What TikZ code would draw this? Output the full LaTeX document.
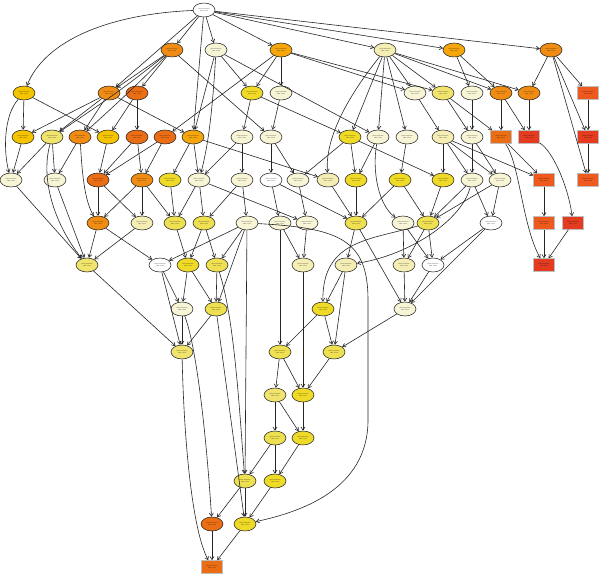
\documentclass[tikz,border=0pt]{standalone}
\usetikzlibrary{shapes.geometric,arrows.meta}
\definecolor{cW}{HTML}{FFFFFF}
\definecolor{cP}{HTML}{F8F5D6}
\definecolor{cPY}{HTML}{F5EEB4}
\definecolor{cLY}{HTML}{F0E46E}
\definecolor{cY}{HTML}{F0DA28}
\definecolor{cYb}{HTML}{EFE052}
\definecolor{cG}{HTML}{F5C400}
\definecolor{cOG}{HTML}{F5A60C}
\definecolor{cO}{HTML}{F08C14}
\definecolor{cDO}{HTML}{EC6E14}
\definecolor{cRO}{HTML}{EE5A1E}
\definecolor{cR}{HTML}{E43C20}
\newcommand\gl{GO:0000000\\GO term}
\tikzset{
  goel/.style={ellipse, draw=black!85, line width=0.55pt, minimum width=22pt, minimum height=14pt, inner sep=0pt, align=center, font=\fontsize{1.5}{1.8}\selectfont},
  gobx/.style={rectangle, draw=black!25, line width=0.5pt, minimum width=21pt, minimum height=13pt, inner sep=0pt, align=center, font=\fontsize{1.5}{1.8}\selectfont},
  conn/.style={draw=black!85, line width=0.6pt, -{Straight Barb[length=3.2pt,width=4pt]}}
}
\begin{document}
\begin{tikzpicture}[x=1pt,y=-1pt]
\useasboundingbox (0,0) rectangle (600,575);
% row 0
\node[goel,fill=cW] (R) at (204,10) {\gl};
% row A
\node[goel,fill=cO]  (A1) at (172,50) {\gl};
\node[goel,fill=cP]  (A2) at (216,50) {\gl};
\node[goel,fill=cOG] (A3) at (281,50) {\gl};
\node[goel,fill=cPY] (A4) at (385,50) {\gl};
\node[goel,fill=cOG] (A5) at (454,50) {\gl};
\node[goel,fill=cO]  (A6) at (551,50) {\gl};
% row B
\node[goel,fill=cG]  (B1) at (24,93) {\gl};
\node[goel,fill=cO]  (B2) at (109,93) {\gl};
\node[goel,fill=cDO] (B3) at (137,93) {\gl};
\node[goel,fill=cY]  (B4) at (252,93) {\gl};
\node[goel,fill=cP]  (B5) at (281,93) {\gl};
\node[goel,fill=cP]  (B6) at (415,93) {\gl};
\node[goel,fill=cLY] (B7) at (443,93) {\gl};
\node[goel,fill=cP]  (B8) at (472,93) {\gl};
\node[goel,fill=cO]  (B9) at (501,93) {\gl};
\node[goel,fill=cO]  (B10) at (529,93) {\gl};
\node[gobx,fill=cRO] (B11) at (588,93) {\gl};
% row C
\node[goel,fill=cG]  (C1) at (23,137) {\gl};
\node[goel,fill=cLY] (C2) at (52,137) {\gl};
\node[goel,fill=cO]  (C3) at (80,137) {\gl};
\node[goel,fill=cG]  (C4) at (108,137) {\gl};
\node[goel,fill=cDO] (C5) at (137,137) {\gl};
\node[goel,fill=cDO] (C6) at (165,137) {\gl};
\node[goel,fill=cOG] (C7) at (193,137) {\gl};
\node[goel,fill=cP]  (C8) at (242,137) {\gl};
\node[goel,fill=cP]  (C9) at (271,137) {\gl};
\node[goel,fill=cY]  (C10) at (350,137) {\gl};
\node[goel,fill=cP]  (C11) at (378,137) {\gl};
\node[goel,fill=cP]  (C12) at (407,137) {\gl};
\node[goel,fill=cPY] (C13) at (443,137) {\gl};
\node[goel,fill=cP]  (C14) at (472,137) {\gl};
\node[gobx,fill=cDO] (C15) at (501,137) {\gl};
\node[gobx,fill=cR]  (C16) at (529,137) {\gl};
\node[gobx,fill=cR]  (C17) at (588,137) {\gl};
% row D
\node[goel,fill=cP]  (D1) at (11,180) {\gl};
\node[goel,fill=cP]  (D2) at (55,180) {\gl};
\node[goel,fill=cDO] (D3) at (98,180) {\gl};
\node[goel,fill=cO]  (D4) at (142,180) {\gl};
\node[goel,fill=cY]  (D5) at (170,180) {\gl};
\node[goel,fill=cP]  (D6) at (199,180) {\gl};
\node[goel,fill=cP]  (D7) at (242,180) {\gl};
\node[goel,fill=cW]  (D8) at (271,180) {\gl};
\node[goel,fill=cP]  (D9) at (298,180) {\gl};
\node[goel,fill=cPY] (D10) at (328,180) {\gl};
\node[goel,fill=cY]  (D11) at (356,180) {\gl};
\node[goel,fill=cY]  (D12) at (400,180) {\gl};
\node[goel,fill=cY]  (D13) at (443,180) {\gl};
\node[goel,fill=cP]  (D14) at (472,180) {\gl};
\node[goel,fill=cP]  (D15) at (500,180) {\gl};
\node[gobx,fill=cRO] (D16) at (544,180) {\gl};
\node[gobx,fill=cRO] (D17) at (588,180) {\gl};
% row E
\node[goel,fill=cO]  (E1) at (98,223) {\gl};
\node[goel,fill=cPY] (E2) at (142,223) {\gl};
\node[goel,fill=cYb] (E3) at (175,223) {\gl};
\node[goel,fill=cYb] (E4) at (204,223) {\gl};
\node[goel,fill=cP]  (E5) at (247,223) {\gl};
\node[goel,fill=cP]  (E6) at (280,223) {\gl};
\node[goel,fill=cP]  (E7) at (307,223) {\gl};
\node[goel,fill=cYb] (E8) at (356,223) {\gl};
\node[goel,fill=cP]  (E9) at (403,223) {\gl};
\node[goel,fill=cYb] (E10) at (428,223) {\gl};
\node[goel,fill=cW]  (E11) at (491,223) {\gl};
\node[gobx,fill=cRO] (E12) at (544,223) {\gl};
\node[gobx,fill=cR]  (E13) at (573,223) {\gl};
% row F
\node[goel,fill=cLY] (F1) at (87,265) {\gl};
\node[goel,fill=cW]  (F2) at (160,265) {\gl};
\node[goel,fill=cY]  (F3) at (188,265) {\gl};
\node[goel,fill=cYb] (F4) at (217,265) {\gl};
\node[goel,fill=cPY] (F5) at (303,265) {\gl};
\node[goel,fill=cPY] (F6) at (346,265) {\gl};
\node[goel,fill=cPY] (F7) at (404,265) {\gl};
\node[goel,fill=cW]  (F8) at (433,265) {\gl};
\node[gobx,fill=cR]  (F9) at (544,265) {\gl};
% row G
\node[goel,fill=cP]  (G1) at (182,309) {\gl};
\node[goel,fill=cYb] (G2) at (216,309) {\gl};
\node[goel,fill=cY]  (G3) at (323,309) {\gl};
\node[goel,fill=cP]  (G4) at (405,309) {\gl};
% row H
\node[goel,fill=cLY] (H1) at (182,352) {\gl};
\node[goel,fill=cYb] (H2) at (280,352) {\gl};
\node[goel,fill=cYb] (H3) at (334,352) {\gl};
% rows I-M
\node[goel,fill=cLY] (I1) at (275,395) {\gl};
\node[goel,fill=cY]  (I2) at (303,395) {\gl};
\node[goel,fill=cYb] (J1) at (275,438) {\gl};
\node[goel,fill=cY]  (J2) at (303,438) {\gl};
\node[goel,fill=cYb] (K1) at (245,481) {\gl};
\node[goel,fill=cY]  (K2) at (275,481) {\gl};
\node[goel,fill=cDO] (L1) at (212,524) {\gl};
\node[goel,fill=cY]  (L2) at (245,524) {\gl};
\node[gobx,fill=cDO] (M1) at (212,567) {\gl};
% straight connectors
\foreach \a/\b in {R/A1,R/A2,R/A3,R/A4,R/A5,R/A6,R/B2,R/C7,
  A1/B2,A1/B3,A1/C9,
  A2/B4,A2/C7,A2/C11,
  A3/B4,A3/B5,A3/B6,A3/B7,A3/C6,
  A4/B6,A4/B7,A4/B9,A4/B10,A4/C10,A4/C11,A4/C12,
  A5/B8,A5/B9,
  A6/B10,A6/B11,A6/C17,A6/D17,
  B1/C1,B1/C4,
  B2/C1,B2/C2,B2/C3,B2/C7,
  B3/C4,B3/C5,
  B4/C8,B4/C10,
  B5/C9,B6/C13,B7/C14,B7/C15,B8/C14,B9/C15,B9/C16,B10/C16,B11/C17,
  C1/D1,C2/D1,C2/D2,C3/D2,C4/D3,C5/D3,C5/D4,C6/D3,C6/D4,C7/D5,C7/D6,C7/D10,
  C8/D6,C8/D7,C9/D8,C9/D9,C10/D9,C10/D11,C10/D13,C11/D11,C12/D12,
  C13/D13,C13/D14,C13/D15,C13/D16,C14/D14,C14/D15,C15/D16,C17/D17,
  D1/F1,D2/F1,D3/E1,D3/E2,D4/E1,D4/E2,D4/E3,D5/E3,D6/E3,D6/E4,D6/E7,D7/E4,D7/E5,
  D8/E6,D8/E8,D9/E7,D10/E8,D11/E8,D12/E8,D12/E10,D13/E10,D14/E10,D14/E11,D15/E10,D15/E11,D16/E12,
  E1/F1,E1/F2,E2/F1,E3/F3,E4/F3,E4/F4,E5/F2,E5/F4,E5/G2,E5/K1,E6/F5,E6/H2,E7/F5,
  E8/F6,E8/G4,E9/F7,E9/F8,E10/F7,E10/F8,E11/F8,E11/G4,E12/F9,E13/F9,
  F1/H1,F2/G1,F2/H1,F3/G1,F3/G2,F4/G2,F5/I2,F6/G3,F6/H3,F7/G4,F8/G4,
  G1/H1,G2/H1,G2/L2,G3/H2,G3/H3,G4/H3,
  H2/I1,H2/I2,H3/I2,I1/J1,I1/J2,I2/J2,J1/K1,J1/K2,J2/K2,K1/L1,K1/L2,K2/L2,L1/M1,L2/M1}
  \draw[conn] (\a) -- (\b);
% curved connectors
\draw[conn] (R) .. controls (110,14) and (45,40) .. (B1);
\draw[conn] (B1) .. controls (4,115) and (3,150) .. (D1);
\draw[conn] (A1) .. controls (121,90) .. (C2);
\draw[conn] (A1) .. controls (125,96) .. (C3);
\draw[conn] (A2) .. controls (212,120) and (207,150) .. (D6);
\draw[conn] (A4) .. controls (345,100) and (325,140) .. (D10);
\draw[conn] (C2) .. controls (40,180) and (55,225) .. (F1);
\draw[conn] (C3) .. controls (82,170) and (84,200) .. (E1);
\draw[conn] (C11) .. controls (372,170) and (378,205) .. (E9);
\draw[conn] (C15) .. controls (520,165) and (522,225) .. (F9);
\draw[conn] (C16) .. controls (552,150) and (568,185) .. (E13);
\draw[conn] (D14) .. controls (462,220) and (410,255) .. (F6);
\coordinate (w1) at (368,300);
\coordinate (w2) at (368,420);
\draw[conn] (E5) .. controls (340,228) and (368,240) .. (w1) -- (w2) .. controls (368,490) and (300,512) .. (L2);
\draw[conn] (E10) .. controls (370,240) and (322,240) .. (G3);
\draw[conn] (F4) .. controls (235,320) and (240,420) .. (K1);
\draw[conn] (G1) .. controls (196,345) and (206,430) .. (L1);
\draw[conn] (H1) .. controls (184,440) and (192,530) .. (M1);
\end{tikzpicture}
\end{document}
